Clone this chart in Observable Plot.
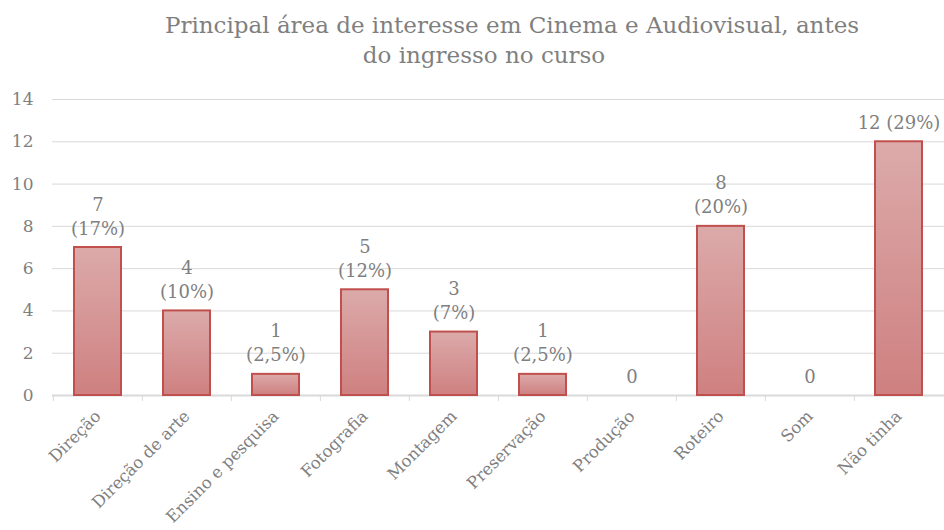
<!DOCTYPE html>
<html>
<head>
<meta charset="utf-8">
<script src="https://cdn.jsdelivr.net/npm/d3@7"></script>
<script src="https://cdn.jsdelivr.net/npm/@observablehq/plot@0.6"></script>
<style>
  html, body { margin: 0; padding: 0; background: #fff; overflow: hidden; }
  #title { position: relative; height: 75px; font-family: "DejaVu Serif", serif; color: #7f7f7f; font-size: 23px; }
  #title div { position: absolute; line-height: 30px; white-space: nowrap; transform: translateX(-50%); }
</style>
</head>
<body>
<div id="title">
  <div style="left:512px; top:10px;">Principal área de interesse em Cinema e Audiovisual, antes</div>
  <div style="left:484px; top:40px;">do ingresso no curso</div>
</div>
<div id="chart"></div>
<script>
const categories = ["Direção", "Direção de arte", "Ensino e pesquisa", "Fotografia", "Montagem", "Preservação", "Produção", "Roteiro", "Som", "Não tinha"];
const counts = [7, 4, 1, 5, 3, 1, 0, 8, 0, 12];
const percents = ["17%", "10%", "2,5%", "12%", "7%", "2,5%", "", "20%", "", "29%"];
const singleLine = [false, false, false, false, false, false, false, false, false, true];
const yTicks = [0, 2, 4, 6, 8, 10, 12, 14];

const data = categories.map((c, i) => ({
  category: c,
  count: counts[i],
  label: percents[i] === "" ? String(counts[i])
       : counts[i] + (singleLine[i] ? " " : "\n") + "(" + percents[i] + ")"
}));

const W = 944, ML = 52, MR = 0;
const padInner = 0.474, padOuter = 0.237;
const step = (W - ML - MR) / (categories.length - padInner + 2 * padOuter);

function gradientDefs() {
  const defs = d3.create("svg:defs");
  const g = defs.append("linearGradient").attr("id", "barGrad")
    .attr("x1", 0).attr("y1", 0).attr("x2", 0).attr("y2", 1);
  g.append("stop").attr("offset", "0%").attr("stop-color", "#dcaaaa");
  g.append("stop").attr("offset", "100%").attr("stop-color", "#cf8080");
  return defs.node();
}

const chart = Plot.plot({
  width: W,
  height: 455,
  marginLeft: ML,
  marginRight: MR,
  marginTop: 24,
  marginBottom: 135,
  style: { fontFamily: "DejaVu Serif, serif", color: "#7f7f7f", background: "#fff", overflow: "visible" },
  x: { domain: categories, paddingInner: padInner, paddingOuter: padOuter, label: null },
  y: { domain: [0, 14], label: null },
  marks: [
    gradientDefs,
    Plot.gridY(yTicks.filter(d => d > 0), { stroke: "#d9d9d9", strokeOpacity: 1, strokeWidth: 1 }),
    Plot.axisX({ tickSize: 6, tickFormat: () => "", dx: -step / 2, stroke: "#d9d9d9", strokeOpacity: 1 }),
    Plot.ruleY([0], { stroke: "#d9d9d9", strokeWidth: 2 }),
    Plot.barY(data, { x: "category", y: "count", fill: "url(#barGrad)", stroke: "#c0504d", strokeWidth: 2 }),
    Plot.text(data, { x: "category", y: "count", text: "label", lineAnchor: "bottom", dy: -13, fontSize: 18, fill: "#7f7f7f", lineHeight: 1.33 }),
    Plot.axisY({ ticks: yTicks, tickSize: 0, tickPadding: 19, fontSize: 17, fill: "#7f7f7f" }),
    Plot.axisX({ tickSize: 0, tickRotate: -45, tickPadding: 18, fontSize: 16.5, fill: "#7f7f7f" })
  ]
});
document.getElementById("chart").appendChild(chart);
</script>
</body>
</html>
